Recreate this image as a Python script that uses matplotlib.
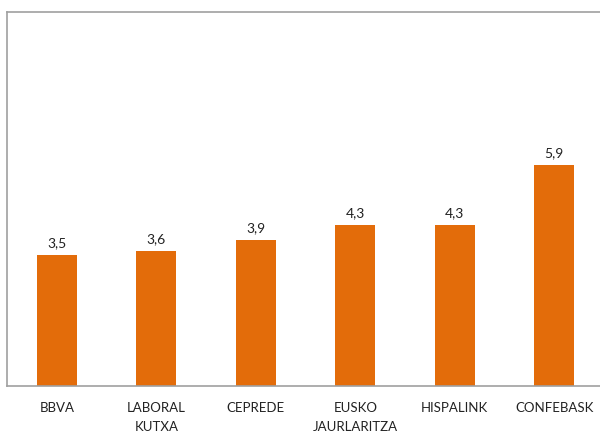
import numpy as np
import matplotlib.pyplot as plt

categories = ['BBVA', 'LABORAL\nKUTXA', 'CEPREDE', 'EUSKO\nJAURLARITZA', 'HISPALINK', 'CONFEBASK']
values = [3.5, 3.6, 3.9, 4.3, 4.3, 5.9]

plt.rcParams['font.family'] = ['Lato', 'DejaVu Sans']

fig = plt.figure(figsize=(6, 4.35), dpi=100)
ax = fig.add_axes([0.0117, 0.1103, 0.995, 0.8597])

x = np.arange(len(categories))
bars = ax.bar(x, values, width=0.4, color='#E36C0A')
for xi, v in zip(x, values):
    ax.annotate(f'{v:.1f}'.replace('.', ','), (xi, v), xytext=(0, 5),
                textcoords='offset points', ha='center', va='bottom',
                fontsize=10, color='#222222')

ax.set_xlim(-0.5, len(categories) - 0.5)
ax.set_ylim(0, 10)
ax.set_yticks([])
ax.set_xticks(x)
ax.set_xticklabels(categories, fontsize=9.5, color='#222222', linespacing=1.65)
ax.tick_params(axis='x', length=0, pad=11)
for s in ax.spines.values():
    s.set_color('#A0A0A0')
    s.set_linewidth(1.2)

fig.savefig('out.png', dpi=100)
